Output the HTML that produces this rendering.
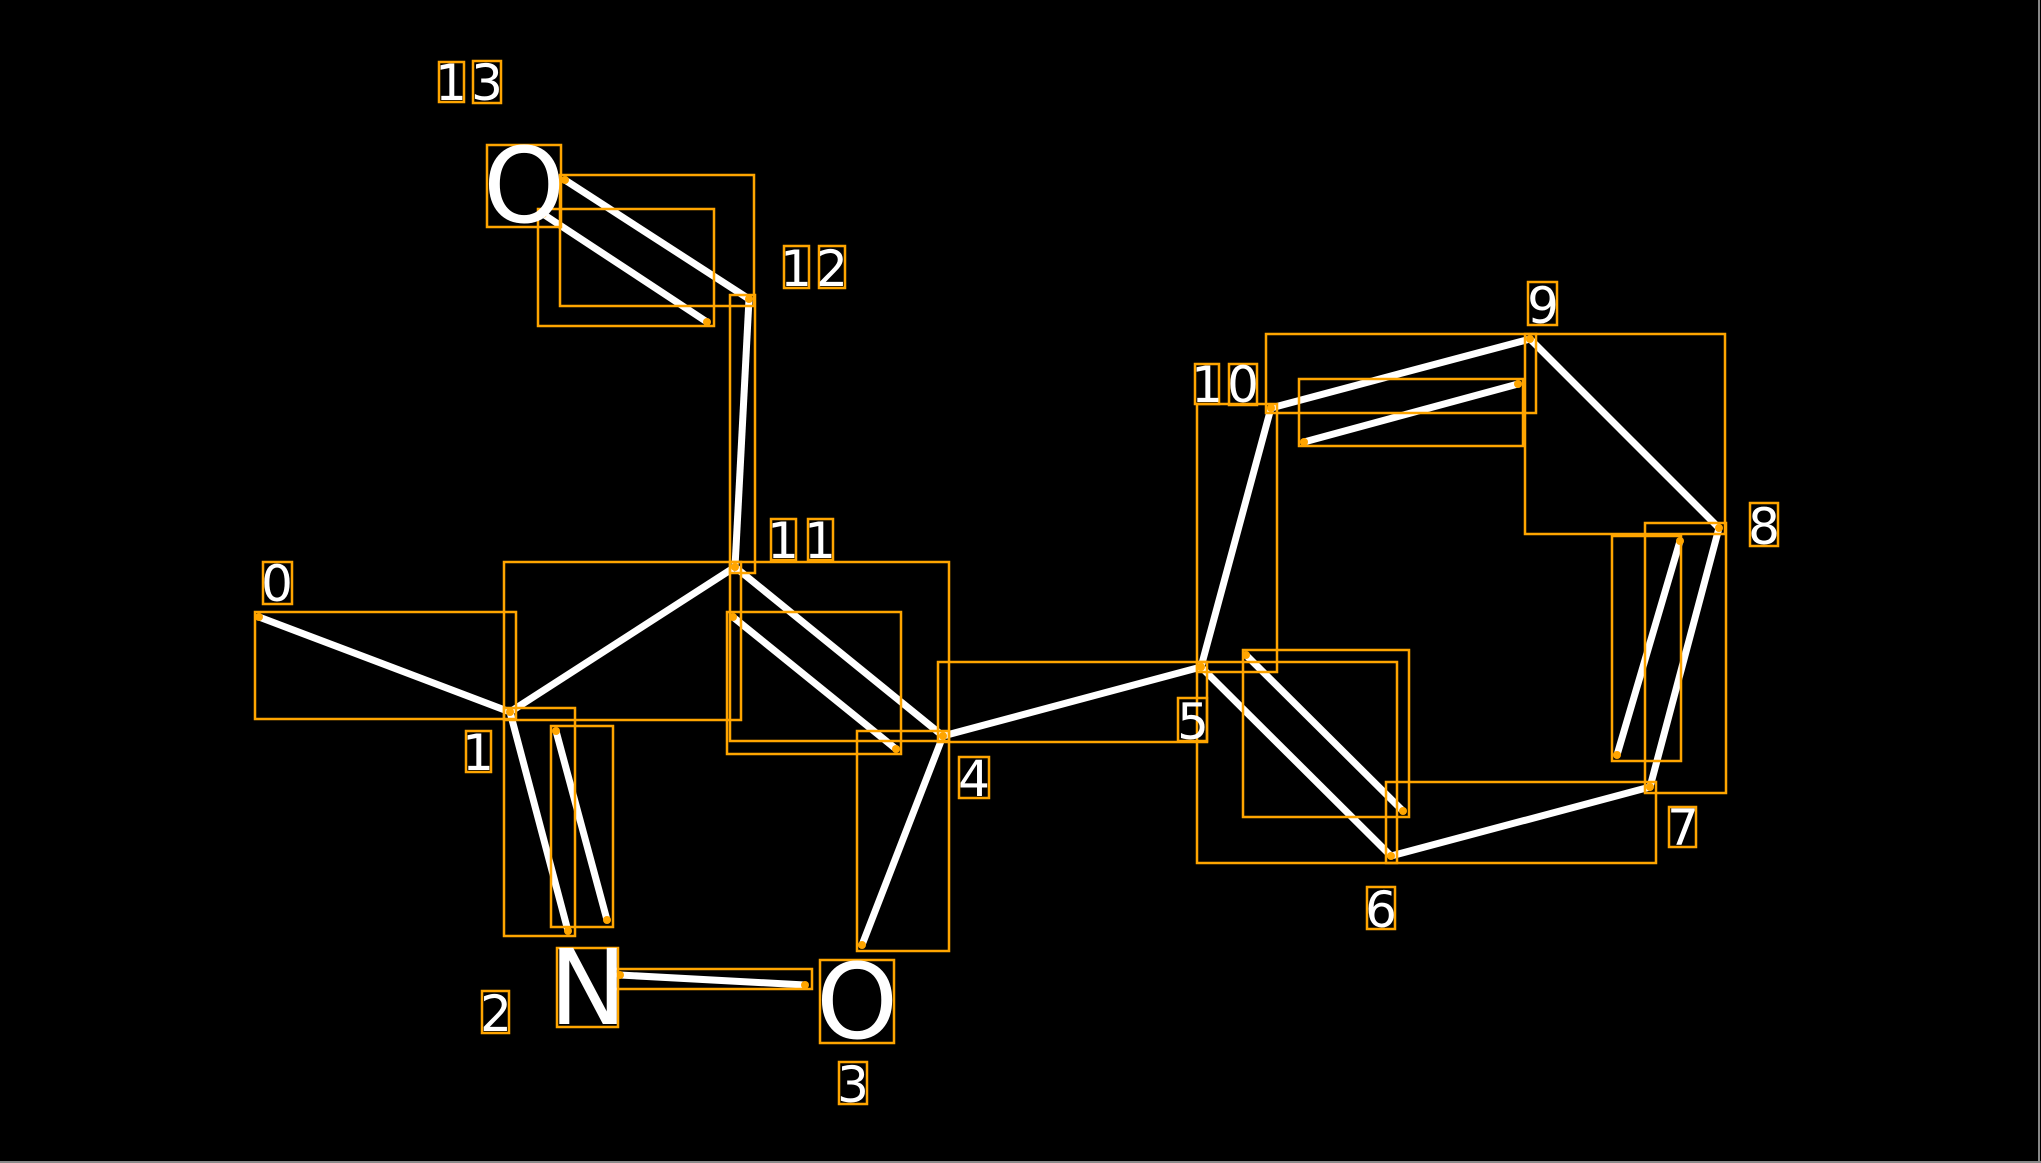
<!DOCTYPE html>
<html><head><meta charset="utf-8"><style>
html,body{margin:0;padding:0;background:#000;}
svg{display:block;}
text{font-family:"DejaVu Sans","Liberation Sans",sans-serif;fill:#fff;text-anchor:middle;}
</style></head><body>
<svg width="2041" height="1163" viewBox="0 0 2041 1163" xmlns="http://www.w3.org/2000/svg">
<rect width="2041" height="1163" fill="#000"/>
<line x1="0" y1="1162" x2="2041" y2="1162" stroke="#888" stroke-width="2"/>
<line x1="2039" y1="0" x2="2039" y2="1163" stroke="#888" stroke-width="2"/>
<g stroke="#fff" stroke-width="7" stroke-linecap="butt">
<line x1="259" y1="617" x2="510" y2="712"/>
<line x1="510" y1="712" x2="735" y2="567"/>
<line x1="510" y1="712" x2="568" y2="931"/>
<line x1="556" y1="731" x2="607" y2="920"/>
<line x1="620" y1="975" x2="805" y2="985"/>
<line x1="943" y1="736" x2="862" y2="945"/>
<line x1="735" y1="567" x2="943" y2="736"/>
<line x1="733" y1="617" x2="896" y2="749"/>
<line x1="749" y1="299" x2="735" y2="567"/>
<line x1="565" y1="180" x2="749" y2="299"/>
<line x1="543" y1="214" x2="707" y2="322"/>
<line x1="943" y1="736" x2="1201" y2="667"/>
<line x1="1201" y1="667" x2="1271" y2="408"/>
<line x1="1271" y1="408" x2="1530" y2="339"/>
<line x1="1304" y1="442" x2="1518" y2="384"/>
<line x1="1530" y1="339" x2="1719" y2="528"/>
<line x1="1719" y1="528" x2="1650" y2="787"/>
<line x1="1680" y1="541" x2="1617" y2="755"/>
<line x1="1650" y1="787" x2="1391" y2="856"/>
<line x1="1201" y1="667" x2="1391" y2="856"/>
<line x1="1246" y1="655" x2="1403" y2="811"/>
</g>
<g fill="none" stroke="#FFA500" stroke-width="2.5">
<rect x="255" y="612" width="261" height="107"/>
<rect x="504" y="562" width="237" height="158"/>
<rect x="504" y="708" width="71" height="228"/>
<rect x="551" y="726" width="62" height="201"/>
<rect x="615" y="969" width="197" height="20"/>
<rect x="857" y="731" width="92" height="220"/>
<rect x="730" y="562" width="219" height="179"/>
<rect x="727" y="612" width="174" height="142"/>
<rect x="730" y="295" width="25" height="278"/>
<rect x="560" y="175" width="194" height="131"/>
<rect x="538" y="209" width="176" height="117"/>
<rect x="938" y="662" width="269" height="80"/>
<rect x="1197" y="404" width="80" height="268"/>
<rect x="1266" y="334" width="270" height="79"/>
<rect x="1299" y="379" width="224" height="67"/>
<rect x="1525" y="334" width="200" height="200"/>
<rect x="1645" y="523" width="81" height="270"/>
<rect x="1612" y="536" width="69" height="225"/>
<rect x="1386" y="782" width="270" height="81"/>
<rect x="1197" y="662" width="200" height="201"/>
<rect x="1243" y="650" width="166" height="167"/>
<!-- label boxes -->
<rect x="263" y="562" width="29" height="42"/>
<rect x="466" y="731" width="25" height="41"/>
<rect x="482" y="991" width="27" height="42"/>
<rect x="839" y="1062" width="28" height="42"/>
<rect x="959" y="757" width="30" height="41"/>
<rect x="1178" y="698" width="29" height="43"/>
<rect x="1367" y="887" width="28" height="42"/>
<rect x="1669" y="807" width="27" height="40"/>
<rect x="1750" y="503" width="28" height="43"/>
<rect x="1528" y="282" width="29" height="43"/>
<rect x="1195" y="364" width="24" height="40"/>
<rect x="1229" y="364" width="28" height="41"/>
<rect x="771" y="519" width="25" height="41"/>
<rect x="808" y="519" width="25" height="41"/>
<rect x="784" y="246" width="25" height="42"/>
<rect x="819" y="246" width="26" height="42"/>
<rect x="439" y="62" width="25" height="40"/>
<rect x="473" y="61" width="28" height="42"/>
<rect x="487" y="145" width="74" height="82"/>
<rect x="557" y="948" width="61" height="79"/>
<rect x="820" y="960" width="74" height="83"/>
</g>
<g fill="#FFA500">
<circle cx="259" cy="617" r="4"/><circle cx="510" cy="712" r="4"/><circle cx="568" cy="931" r="4"/>
<circle cx="556" cy="731" r="4"/><circle cx="607" cy="920" r="4"/><circle cx="620" cy="975" r="4"/>
<circle cx="805" cy="985" r="4"/><circle cx="862" cy="945" r="4"/><circle cx="943" cy="736" r="4"/>
<circle cx="735" cy="567" r="4"/><circle cx="733" cy="617" r="4"/><circle cx="896" cy="749" r="4"/>
<circle cx="749" cy="299" r="4"/><circle cx="565" cy="180" r="4"/><circle cx="543" cy="214" r="4"/>
<circle cx="707" cy="322" r="4"/><circle cx="1201" cy="667" r="4"/><circle cx="1271" cy="408" r="4"/>
<circle cx="1530" cy="339" r="4"/><circle cx="1304" cy="442" r="4"/><circle cx="1518" cy="384" r="4"/>
<circle cx="1719" cy="528" r="4"/><circle cx="1650" cy="787" r="4"/><circle cx="1680" cy="541" r="4"/>
<circle cx="1617" cy="755" r="4"/><circle cx="1391" cy="856" r="4"/><circle cx="1246" cy="655" r="4"/>
<circle cx="1403" cy="811" r="4"/>
</g>
<g font-size="50">
<text x="277" y="601">0</text>
<text x="478" y="770">1</text>
<text x="496" y="1031">2</text>
<text x="853" y="1102">3</text>
<text x="974" y="796">4</text>
<text x="1193" y="739">5</text>
<text x="1381" y="927">6</text>
<text x="1683" y="845">7</text>
<text x="1764" y="544">8</text>
<text x="1543" y="323">9</text>
<text x="1207" y="402">1</text><text x="1243" y="402">0</text>
<text x="783" y="558">1</text><text x="820" y="558">1</text>
<text x="796" y="286">1</text><text x="832" y="286">2</text>
<text x="451" y="100">1</text><text x="487" y="100">3</text>
</g>
<g font-size="104">
<text x="524" y="222">O</text>
<text x="588" y="1024">N</text>
<text x="857" y="1038">O</text>
</g>
</svg>
</body></html>
